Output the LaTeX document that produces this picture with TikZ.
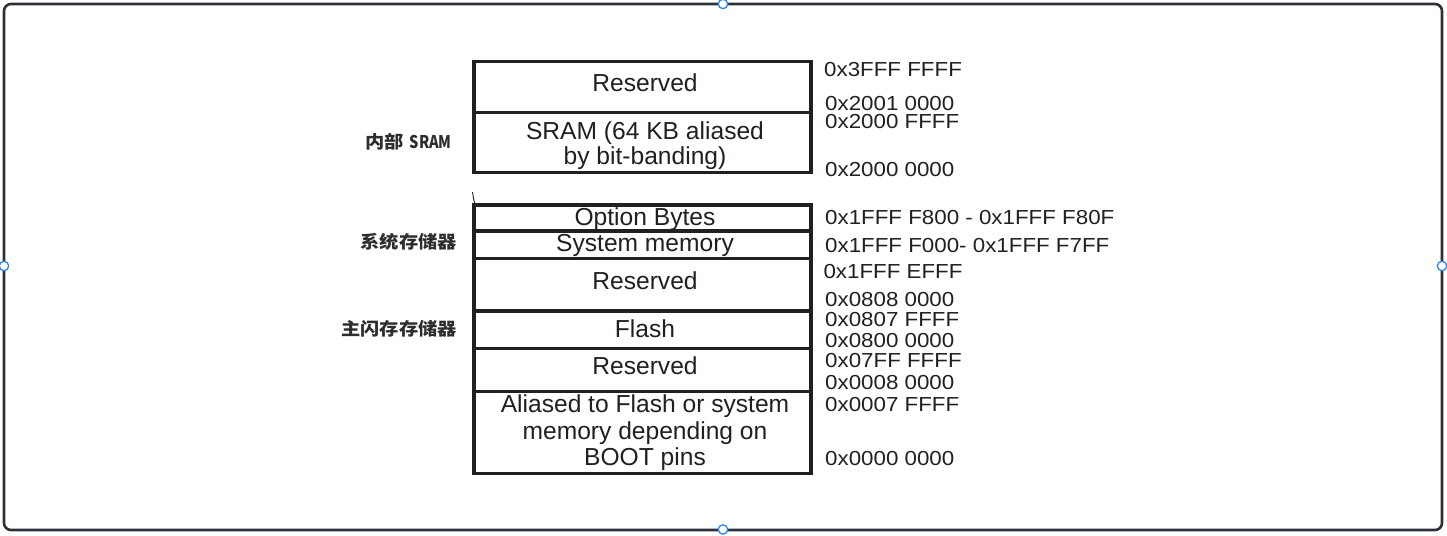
\documentclass[tikz,border=0pt]{standalone}
\usepackage{fontspec}
\usepackage{graphicx}
\setmainfont{Liberation Sans}
\newfontfamily\addrfont{Liberation Sans}[FakeStretch=1.1]
\newfontfamily\cjkfont{Noto Sans CJK SC}[FakeStretch=1.1]

\definecolor{ink}{HTML}{231F20}
\definecolor{frameink}{HTML}{2B3137}
\definecolor{cjkink}{HTML}{2E2E2E}
\definecolor{handleblue}{HTML}{2F86F0}

\tikzset{
  cell/.style={draw=ink, line width=3.2pt, outer sep=0pt, inner sep=0pt,
               minimum width=337pt, anchor=north west},
  celltext/.style={anchor=base, inner sep=0pt, text=ink,
                   font=\fontsize{24.6pt}{29pt}\selectfont},
  addr/.style={anchor=base west, inner sep=0pt, text=ink,
               font=\addrfont\fontsize{20.3pt}{24pt}\selectfont},
  region/.style={anchor=base east, inner sep=0pt, text=cjkink,
                 font=\cjkfont\bfseries\fontsize{17.5pt}{21pt}\selectfont},
  handle/.style={circle, draw=handleblue, fill=white, line width=1.3pt,
                 minimum size=9.4pt, inner sep=0pt}
}

\begin{document}
\begin{tikzpicture}[x=1pt,y=-1pt]
  \useasboundingbox (0,0) rectangle (1447,535);
  \fill[white] (0,0) rectangle (1447,535);

  % outer frame
  \draw[frameink, line width=2.6pt, rounded corners=7pt] (4,4) rectangle (1442,530);

  % memory map cells
  \node[cell, minimum height=51pt]   (res1)  at (474,61.5)  {};
  \node[cell, minimum height=59.8pt] (sram)  at (474,112.5) {};
  \node[cell, minimum height=26pt]   (opt)   at (474,205)   {};
  \node[cell, minimum height=27.3pt] (sys)   at (474,231)   {};
  \node[cell, minimum height=52.7pt] (res2)  at (474,258.3) {};
  \node[cell, minimum height=37.3pt] (flash) at (474,311)   {};
  \node[cell, minimum height=43.4pt] (res3)  at (474,348.3) {};
  \node[cell, minimum height=81.6pt] (alias) at (474,391.7) {};

  % break mark between SRAM and system memory
  \draw[ink, line width=0.9pt] (472.5,192) .. controls (473.2,197) and (474,201) .. (475,204.5);

  % cell texts
  \node[celltext] (t-res1)   at (645,92)    {Reserved};
  \node[celltext] (t-sram1)  at (645,139.3) {SRAM (64 KB aliased};
  \node[celltext] (t-sram2)  at (645,164)   {by bit-banding)};
  \node[celltext] (t-opt)    at (645,225)   {Option Bytes};
  \node[celltext] (t-sys)    at (645,251.7) {System memory};
  \node[celltext] (t-res2)   at (645,289.3) {Reserved};
  \node[celltext] (t-flash)  at (645,337)   {Flash};
  \node[celltext] (t-res3)   at (645,374.3) {Reserved};
  \node[celltext] (t-alias1) at (645,412.7) {Aliased to Flash or system};
  \node[celltext] (t-alias2) at (645,439.3) {memory depending on};
  \node[celltext] (t-alias3) at (645,465)   {BOOT pins};

  % addresses
  \node[addr] (a1)  at (824,76)    {0x3FFF FFFF};
  \node[addr] (a2)  at (825,110)   {0x2001 0000};
  \node[addr] (a3)  at (825,128.3) {0x2000 FFFF};
  \node[addr] (a4)  at (825,176)   {0x2000 0000};
  \node[addr] (a5)  at (825,224.3) {0x1FFF F800 - 0x1FFF F80F};
  \node[addr] (a6)  at (825,252)   {0x1FFF F000- 0x1FFF F7FF};
  \node[addr] (a7)  at (823.3,278.3) {0x1FFF EFFF};
  \node[addr] (a8)  at (825,306)   {0x0808 0000};
  \node[addr] (a9)  at (825,326.7) {0x0807 FFFF};
  \node[addr] (a10) at (825,347.7) {0x0800 0000};
  \node[addr] (a11) at (825,367.3) {0x07FF FFFF};
  \node[addr] (a12) at (825,389)   {0x0008 0000};
  \node[addr] (a13) at (825,411.7) {0x0007 FFFF};
  \node[addr] (a14) at (825,465.7) {0x0000 0000};

  % region labels
  \node[region] (l-sram)  at (452,148.5) {内部\hspace{6pt}\scalebox{0.76}[1]{SRAM}};
  \node[region] (l-sys)   at (457,248.5) {系统存储器};
  \node[region] (l-flash) at (457,335.5) {主闪存存储器};

  % selection handles on the frame
  \node[handle] (h-top)    at (723,4)    {};
  \node[handle] (h-left)   at (4,266)    {};
  \node[handle] (h-right)  at (1442,266) {};
  \node[handle] (h-bottom) at (723,529.5) {};
\end{tikzpicture}
\end{document}
